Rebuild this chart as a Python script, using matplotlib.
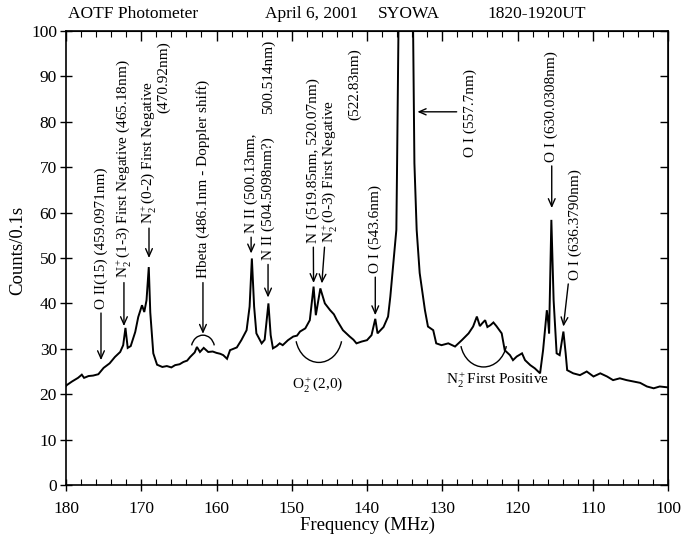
import matplotlib
matplotlib.use("Agg")
import matplotlib.pyplot as plt
from matplotlib.ticker import MultipleLocator
from matplotlib.patches import Arc

plt.rcParams['font.family'] = ['Liberation Serif', 'DejaVu Serif']
plt.rcParams['mathtext.fontset'] = 'custom'
plt.rcParams['mathtext.rm'] = 'Liberation Serif'
plt.rcParams['mathtext.it'] = 'Liberation Serif:italic'

# ---- data ----
freq = [180.0, 179.9, 179.2, 178.4, 177.9, 177.6, 177.0, 176.4, 175.7, 175.0,
        174.2, 173.5, 172.8, 172.4, 172.1, 171.8, 171.4, 170.8, 170.4, 169.9,
        169.6, 169.3, 169.0, 168.8, 168.4, 167.9, 167.2, 166.6, 166.0, 165.5,
        164.9, 164.4, 163.9, 163.5, 162.9, 162.6, 162.2, 161.7, 161.1, 160.5,
        160.0, 159.5, 159.1, 158.6, 158.2, 157.3, 156.7, 156.0, 155.6, 155.3,
        155.0, 154.7, 154.0, 153.6, 153.1, 152.8, 152.5, 152.0, 151.6, 151.2,
        150.5, 149.8, 149.3, 148.9, 148.2, 147.6, 147.1, 146.8, 146.2, 145.6,
        144.9, 144.4, 144.0, 143.2, 142.3, 141.8, 141.4, 140.7, 140.0, 139.4,
        138.9, 138.6, 137.8, 137.2, 136.9, 136.5, 136.1, 136.0, 135.8, 135.3,
        134.8, 134.3, 133.9, 133.7, 133.4, 133.0, 132.3, 131.9, 131.2, 130.8,
        130.1, 129.2, 128.3, 127.4, 126.5, 125.9, 125.4, 125.0, 124.7, 124.3,
        124.0, 123.6, 123.2, 122.8, 122.1, 121.7, 121.0, 120.6, 120.1, 119.4,
        119.0, 118.3, 117.7, 117.0, 116.6, 116.1, 115.9, 115.8, 115.5, 115.2,
        114.8, 114.4, 113.9, 113.6, 113.4, 112.6, 111.7, 110.8, 109.9, 109.0,
        108.1, 107.3, 106.4, 105.5, 104.6, 103.7, 102.8, 101.9, 101.1, 100.0]
counts = [21.8, 22.0, 22.8, 23.6, 24.3, 23.6, 24.0, 24.1, 24.4, 25.8,
          26.8, 28.2, 29.3, 30.8, 34.6, 30.2, 30.6, 33.7, 37.0, 39.6,
          38.1, 40.7, 48.0, 38.0, 29.0, 26.5, 26.0, 26.2, 25.9, 26.4,
          26.6, 27.1, 27.4, 28.2, 29.2, 30.4, 29.3, 30.2, 29.3, 29.4,
          29.1, 28.9, 28.6, 27.8, 29.7, 30.3, 31.9, 34.1, 39.3, 49.9,
          39.3, 33.4, 31.2, 32.0, 40.0, 33.0, 30.1, 30.6, 31.2, 30.8,
          31.9, 32.7, 32.9, 33.8, 34.5, 36.3, 43.7, 37.4, 43.3, 40.0,
          38.5, 37.6, 36.3, 34.1, 32.7, 32.0, 31.2, 31.6, 31.9, 33.0,
          36.6, 33.4, 34.8, 37.1, 41.5, 48.8, 56.2, 70.9, 105.0, 150.0,
          160.0, 150.0, 105.0, 70.9, 56.2, 46.7, 38.5, 34.9, 34.1, 31.2,
          30.8, 31.2, 30.5, 31.9, 33.4, 34.9, 37.1, 35.0, 35.6, 36.3,
          34.8, 35.2, 35.8, 35.0, 33.4, 29.7, 28.6, 27.5, 28.3, 29.0,
          27.5, 26.4, 25.7, 24.6, 29.7, 38.5, 35.6, 33.4, 58.4, 40.7,
          29.0, 28.6, 33.8, 29.0, 25.3, 24.6, 24.2, 25.0, 23.9, 24.6,
          23.9, 23.1, 23.5, 23.1, 22.8, 22.5, 21.7, 21.3, 21.7, 21.5]

xticks = [180, 170, 160, 150, 140, 130, 120, 110, 100]
yticks = [0, 10, 20, 30, 40, 50, 60, 70, 80, 90, 100]

W, H = 682, 542
fig = plt.figure(figsize=(W / 100, H / 100), dpi=100)
ax = fig.add_axes([66 / W, 1 - 485 / H, 602 / W, 454 / H])
ax.plot(freq, counts, color='black', lw=1.4, solid_joinstyle='miter')
ax.set_xlim(180, 100)
ax.set_ylim(0, 100)
ax.set_xticks(xticks)
ax.set_yticks(yticks)
ax.xaxis.set_minor_locator(MultipleLocator(2))
ax.tick_params(axis='x', which='major', direction='inout', length=9, width=1, labelsize=12.5, pad=7)
ax.tick_params(axis='x', which='minor', direction='in', length=4, width=0.8)
ax.tick_params(axis='y', which='major', direction='inout', length=9, width=1, labelsize=12.5, pad=2)
for s in ax.spines.values():
    s.set_linewidth(1.2)

top = ax.secondary_xaxis('top')
top.set_xticks(xticks)
top.xaxis.set_minor_locator(MultipleLocator(2))
top.tick_params(which='major', direction='in', length=7, width=1, labeltop=False)
top.tick_params(which='minor', direction='in', length=4, width=0.8)
right = ax.secondary_yaxis('right')
right.set_yticks(yticks)
right.tick_params(which='major', direction='in', length=6, width=1, labelright=False)

fs = 11
arrow = dict(arrowstyle='->, head_length=0.5, head_width=0.22', lw=1.0, color='black',
             shrinkA=1, shrinkB=0)

def label(text, xt, yt, xy):
    ax.annotate(text, xy=xy, xytext=(xt, yt), rotation=90, ha='center', va='bottom',
                fontsize=fs, arrowprops=arrow)

def vtext(text, x, y):
    ax.text(x, y, text, rotation=90, ha='center', va='bottom', fontsize=fs)

label('O II(15) (459.0971nm)', 175.35, 38.8, (175.35, 27.5))
label(r'N$_2^+$(1-3) First Negative (465.18nm)', 172.3, 45.5, (172.3, 35.0))
label(r'N$_2^+$(0-2) First Negative', 168.97, 57.5, (168.97, 50.0))
vtext('(470.92nm)', 167.0, 82.0)
label('Hbeta (486.1nm - Doppler shift)', 161.8, 45.5, (161.8, 33.3))
label('N II (500.13nm,', 155.4, 55.5, (155.4, 51.0))
vtext('500.514nm)', 153.15, 81.8)
label('N II (504.5098nm?)', 153.15, 49.5, (153.15, 41.3))
label('N I (519.85nm, 520.07nm)', 147.2, 53.3, (147.1, 44.5))
ax.annotate(r'N$_2^+$(0-3) First Negative', xy=(146.0, 44.4), xytext=(144.9, 53.3),
            rotation=90, ha='center', va='bottom', fontsize=fs, arrowprops=arrow)
vtext('(522.83nm)', 141.6, 80.4)
label('O I (543.6nm)', 138.9, 46.7, (138.9, 37.4))
vtext('O I (557.7nm)', 126.3, 72.2)
ax.annotate('', xy=(133.3, 82.2), xytext=(127.9, 82.2), arrowprops=arrow)
label('O I (630.0308nm)', 115.45, 71.2, (115.45, 61.0))
ax.annotate('O I (636.3790nm)', xy=(113.9, 34.9), xytext=(112.35, 45.2),
            rotation=90, ha='center', va='bottom', fontsize=fs, arrowprops=arrow)

# brackets
ax.add_patch(Arc((161.8, 30.05), 3.1, 5.9, theta1=25, theta2=155, lw=1.0, color='black'))
ax.add_patch(Arc((146.4, 33.07), 6.2, 12.14, theta1=205, theta2=335, lw=1.0, color='black'))
ax.add_patch(Arc((124.5, 32.0), 6.2, 12.0, theta1=205, theta2=335, lw=1.0, color='black'))
ax.text(146.5, 22.0, r'O$_2^+$(2,0)', ha='center', va='center', fontsize=fs)
ax.text(122.7, 23.1, r'N$_2^+$First Positive', ha='center', va='center', fontsize=fs)

# header and axis titles
ty = 1 - 14 / H
fig.text(68 / W, ty, 'AOTF Photometer', ha='left', va='center', fontsize=12.5)
fig.text(265 / W, ty, 'April 6, 2001', ha='left', va='center', fontsize=12.5)
fig.text(378 / W, ty, 'SYOWA', ha='left', va='center', fontsize=12.5)
fig.text(487 / W, ty, '1820-1920UT', ha='left', va='center', fontsize=12.5)
fig.text(18 / W, 1 - 250 / H, 'Counts/0.1s', rotation=90, ha='center', va='center', fontsize=13.5)
fig.text(368 / W, 1 - 525 / H, 'Frequency (MHz)', ha='center', va='center', fontsize=13.5)

fig.savefig('out.png', dpi=100)
